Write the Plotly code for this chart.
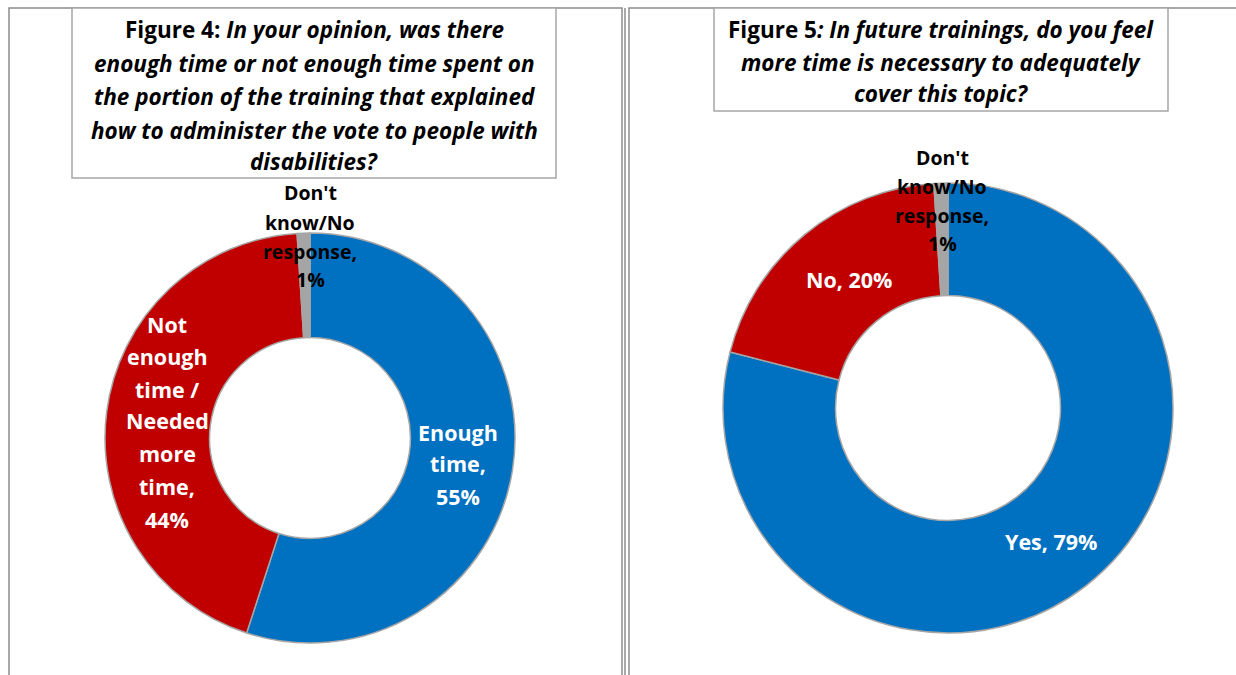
import plotly.graph_objects as go

W, H = 1236, 675

fig4_labels = ["Enough time", "Not enough time / Needed more time", "Don't know/No response"]
fig4_values = [55, 44, 1]
fig5_labels = ["Yes", "No", "Don't know/No response"]
fig5_values = [79, 20, 1]
colors = ["#0070C0", "#C00000", "#A5A5A5"]

FONT = "Open Sans"

def px_x(x):
    return x / W

def px_y(y):
    return 1 - y / H

fig = go.Figure()
fig.add_trace(go.Pie(
    labels=fig4_labels, values=fig4_values, hole=0.49, sort=False,
    direction="clockwise", rotation=0, textinfo="none", hoverinfo="label+percent",
    marker=dict(colors=colors, line=dict(color="#A6A6A6", width=1.5)),
    domain=dict(x=[px_x(105), px_x(515)], y=[px_y(643), px_y(233)]),
    showlegend=False,
))
fig.add_trace(go.Pie(
    labels=fig5_labels, values=fig5_values, hole=0.5, sort=False,
    direction="clockwise", rotation=0, textinfo="none", hoverinfo="label+percent",
    marker=dict(colors=colors, line=dict(color="#A6A6A6", width=1.5)),
    domain=dict(x=[px_x(723), px_x(1173)], y=[px_y(633), px_y(183)]),
    showlegend=False,
))

shapes = []
# panel borders (double lines)
for x0, x1 in [(9, 622), (629, 1240)]:
    shapes.append(dict(type="rect", xref="paper", yref="paper",
                       x0=px_x(x0), x1=px_x(x1), y0=px_y(700), y1=px_y(8),
                       line=dict(color="#8C8C8C", width=1.5), fillcolor="rgba(0,0,0,0)"))
shapes.append(dict(type="line", xref="paper", yref="paper",
                   x0=px_x(625), x1=px_x(625), y0=0, y1=px_y(8),
                   line=dict(color="#8C8C8C", width=1.5)))
# title boxes
for x0, x1, y1 in [(72, 556, 178), (714, 1168, 111)]:
    shapes.append(dict(type="rect", xref="paper", yref="paper",
                       x0=px_x(x0), x1=px_x(x1), y0=px_y(y1), y1=px_y(8),
                       line=dict(color="#A6A6A6", width=1.5), fillcolor="white"))

annotations = []

def add_lines(lines, x, ys, size, color):
    for line, y in zip(lines, ys):
        annotations.append(dict(text=line, x=px_x(x), y=px_y(y), xref="paper", yref="paper",
                                showarrow=False, xanchor="center", yanchor="middle",
                                font=dict(family=FONT, size=size, color=color)))

# titles
t4 = ["<b>Figure 4: <i>In your opinion, was there</i></b>",
      "<b><i>enough time or not enough time spent on</i></b>",
      "<b><i>the portion of the training that explained</i></b>",
      "<b><i>how to administer the vote to people with</i></b>",
      "<b><i>disabilities?</i></b>"]
add_lines(t4, 314, [30, 63, 97, 130, 161], 22.5, "black")
t5 = ["<b>Figure 5<i>: In future trainings, do you feel</i></b>",
      "<b><i>more time is necessary to adequately</i></b>",
      "<b><i>cover this topic?</i></b>"]
add_lines(t5, 941, [29, 62, 94], 22.5, "black")

# data labels
add_lines(["<b>Enough</b>", "<b>time,</b>", f"<b>{fig4_values[0]}%</b>"], 458, [432, 464, 496], 21.5, "white")
add_lines(["<b>Not</b>", "<b>enough</b>", "<b>time /</b>", "<b>Needed</b>", "<b>more</b>", "<b>time,</b>",
           f"<b>{fig4_values[1]}%</b>"], 167, [324, 356, 389, 421, 453, 486, 519], 21.5, "white")
add_lines(["<b>Don't</b>", "<b>know/No</b>", "<b>response,</b>", f"<b>{fig4_values[2]}%</b>"],
          310, [192, 222, 252, 280], 19.5, "black")
add_lines(["<b>Don't</b>", "<b>know/No</b>", "<b>response,</b>", f"<b>{fig5_values[2]}%</b>"],
          942, [157, 186, 215, 243], 19.5, "black")
add_lines([f"<b>No, {fig5_values[1]}%</b>"], 849, [279], 21.5, "white")
add_lines([f"<b>Yes, {fig5_values[0]}%</b>"], 1051, [541], 21.5, "white")

fig.update_layout(
    width=W, height=H, margin=dict(l=0, r=0, t=0, b=0),
    paper_bgcolor="white", plot_bgcolor="white",
    shapes=shapes, annotations=annotations,
)

fig.write_html("out.html")
